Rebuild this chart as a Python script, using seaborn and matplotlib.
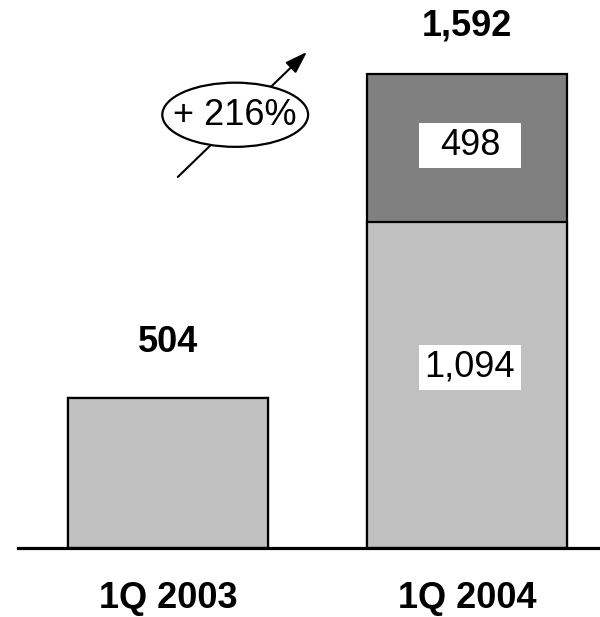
import matplotlib
matplotlib.use("Agg")
import matplotlib.pyplot as plt
from matplotlib.patches import Ellipse, Rectangle, FancyArrowPatch
import seaborn as sns
import pandas as pd

quarters = ["1Q 2003", "1Q 2004"]
base_values = [504, 1094]
top_values = [0, 498]
totals = [b + t for b, t in zip(base_values, top_values)]
growth_label = "+ 216%"

light = "#c0c0c0"
dark = "#808080"

sns.set_style("white")
plt.rcParams["font.family"] = ["Liberation Sans", "DejaVu Sans"]
plt.rcParams["text.color"] = "black"
plt.rcParams["xtick.color"] = "black"

fig = plt.figure(figsize=(6, 6.17), dpi=100)
ax = fig.add_axes([0.03, 0.1118, 0.97, 0.8882])

df_tot = pd.DataFrame({"quarter": quarters, "value": totals})
df_base = pd.DataFrame({"quarter": quarters, "value": base_values})

sns.barplot(data=df_tot, x="quarter", y="value", hue="quarter",
            palette=[light, dark], width=0.67, edgecolor="black",
            linewidth=1.6, legend=False, ax=ax)
sns.barplot(data=df_base, x="quarter", y="value", hue="quarter",
            palette=[light, light], width=0.67, edgecolor="black",
            linewidth=1.6, legend=False, ax=ax)

ax.set_xlim(-0.502, 1.445)
ax.set_ylim(0, 1841)
ax.set_xlabel("")
ax.set_ylabel("")
ax.set_yticks([])
for s in ["top", "right", "left"]:
    ax.spines[s].set_visible(False)
ax.spines["bottom"].set_linewidth(2.3)
ax.spines["bottom"].set_color("black")
ax.tick_params(axis="x", length=0, pad=24)
for lab in ax.get_xticklabels():
    lab.set_fontsize(26)
    lab.set_fontweight("bold")

# totals above bars
for i, (t, off) in enumerate(zip(totals, [185, 160])):
    ax.text(i, t + off, f"{t:,}", ha="center", va="center",
            fontsize=26, fontweight="bold")

# segment labels in fixed-size white boxes
box_w, box_h = 0.341, 151
i = 1
for val, yc in [(base_values[i], base_values[i] / 2 + 60),
                (top_values[i], base_values[i] + top_values[i] / 2 + 8)]:
    ax.add_patch(Rectangle((i + 0.01 - box_w / 2, yc - box_h / 2), box_w, box_h,
                           facecolor="white", edgecolor="none", zorder=4))
    ax.text(i + 0.01, yc, f"{val:,}", ha="center", va="center",
            fontsize=26, zorder=5)

# growth arrow with ellipse
fig.patches.append(FancyArrowPatch(
    (0.293, 0.710), (0.515, 0.919), transform=fig.transFigure,
    arrowstyle="-|>,head_length=9,head_width=3", mutation_scale=1.5,
    color="black", linewidth=1.5, zorder=5))
fig.patches.append(Ellipse((0.392, 0.814), 0.243, 0.104,
                           transform=fig.transFigure, facecolor="white",
                           edgecolor="black", linewidth=1.6, zorder=6))
fig.text(0.392, 0.812, growth_label, ha="center", va="center",
         fontsize=26, zorder=7)

fig.savefig("out.png", dpi=100)
